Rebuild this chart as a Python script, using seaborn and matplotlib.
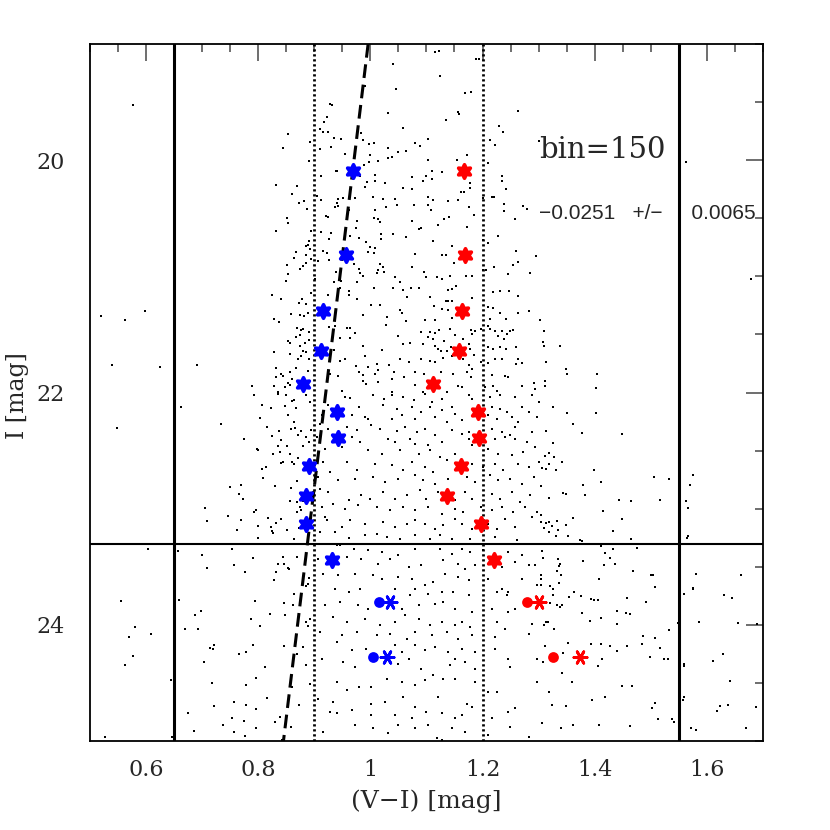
import numpy as np
import matplotlib
matplotlib.use('Agg')
import matplotlib.pyplot as plt
from matplotlib.ticker import MultipleLocator
import seaborn as sns

# field stars (V-I, I)
stars_upper_left = [
	(0.577, 19.525), (0.854, 19.777), (0.844, 19.892), (0.892, 19.846), (0.891, 20.004), (0.831, 20.216),
	(0.870, 20.225), (0.861, 20.288), (0.873, 20.365), (0.881, 20.348), (0.887, 20.423), (0.851, 20.495),
	(0.854, 20.540), (0.832, 20.609), (0.895, 20.606), (0.890, 20.695), (0.885, 20.735), (0.889, 20.730),
	(0.892, 20.767), (0.867, 20.787), (0.885, 20.813), (0.864, 20.839), (0.895, 20.850), (0.885, 20.882),
	(0.851, 20.902), (0.879, 20.911), (0.874, 20.939), (0.854, 20.977), (0.850, 21.037), (0.894, 21.146),
	(0.825, 21.163), (0.841, 21.195), (0.878, 21.197), (0.873, 21.226), (0.885, 21.237), (0.599, 21.295),
	(0.520, 21.338), (0.563, 21.375), (0.859, 21.326), (0.874, 21.329), (0.888, 21.312), (0.881, 21.344),
	(0.828, 21.370), (0.837, 21.390), (0.870, 21.441), (0.876, 21.458), (0.880, 21.453), (0.890, 21.478),
	(0.875, 21.507), (0.867, 21.524), (0.854, 21.553), (0.857, 21.570), (0.890, 21.544), (0.883, 21.576),
	(0.874, 21.599), (0.880, 21.639), (0.828, 21.654), (0.856, 21.668), (0.885, 21.654), (0.877, 21.685),
	(0.871, 21.711), (0.891, 21.711), (0.540, 21.765), (0.625, 21.783), (0.690, 21.762), (0.831, 21.788),
	(0.867, 21.791), (0.888, 21.814), (0.841, 21.843), (0.844, 21.857), (0.857, 21.826), (0.831, 21.866),
	(0.860, 21.883), (0.789, 21.943), (0.829, 21.943), (0.847, 21.949), (0.854, 21.920), (0.836, 21.992),
	(0.857, 21.935),
]

stars_upper_mid = [
	(1.123, 19.057), (1.115, 19.072), (1.189, 19.129), (1.194, 19.129), (1.040, 19.172), (1.125, 19.278),
	(0.990, 19.361), (1.045, 19.387), (1.179, 19.410), (1.169, 19.422), (0.928, 19.519), (0.931, 19.525),
	(1.031, 19.591), (1.156, 19.588), (1.158, 19.605), (1.264, 19.577), (0.922, 19.628), (0.918, 19.668),
	(1.135, 19.657), (1.058, 19.720), (1.229, 19.709), (0.911, 19.731), (0.915, 19.760), (0.925, 19.760),
	(1.236, 19.757), (0.983, 19.769), (0.936, 19.812), (0.948, 19.820), (1.102, 19.815), (0.987, 19.829),
	(1.213, 19.823), (1.301, 19.832), (0.997, 19.861), (1.007, 19.852), (1.080, 19.855), (1.088, 19.875),
	(1.222, 19.869), (1.032, 19.895), (0.929, 19.889), (0.911, 19.906), (1.063, 19.918), (1.049, 19.932),
	(0.954, 19.947), (1.000, 19.958), (1.173, 19.955), (1.039, 19.975), (1.031, 19.978), (1.103, 19.995),
	(1.155, 19.995), (1.014, 20.010), (0.988, 20.038), (0.998, 20.018), (1.210, 20.024), (0.939, 20.096),
	(0.941, 20.096), (1.127, 20.102), (1.110, 20.096), (0.912, 20.139), (0.982, 20.133), (1.008, 20.125),
	(1.234, 20.139), (1.074, 20.147), (1.100, 20.133), (1.235, 20.182), (0.994, 20.190), (1.009, 20.176),
	(1.026, 20.199), (1.093, 20.179), (1.109, 20.165), (1.178, 20.199), (0.991, 20.233), (1.059, 20.242),
	(1.075, 20.245), (1.177, 20.239), (1.241, 20.251), (1.162, 20.277), (1.167, 20.271), (0.905, 20.305),
	(0.912, 20.340), (0.943, 20.337), (0.952, 20.325), (0.973, 20.328), (1.005, 20.320), (1.023, 20.334),
	(1.044, 20.337), (1.102, 20.320), (1.112, 20.343), (1.139, 20.354), (1.156, 20.343), (1.200, 20.322),
	(1.216, 20.314), (1.221, 20.317), (0.940, 20.368), (0.943, 20.391), (1.047, 20.383), (1.078, 20.388),
	(1.103, 20.388), (1.176, 20.400), (1.238, 20.374), (1.273, 20.394), (1.280, 20.420), (0.937, 20.406),
	(0.961, 20.426), (1.008, 20.426), (1.028, 20.400), (1.108, 20.429), (1.239, 20.434), (0.920, 20.483),
	(0.924, 20.492), (1.007, 20.500), (1.014, 20.503), (1.141, 20.492), (1.131, 20.503), (1.184, 20.472),
	(1.257, 20.503), (1.074, 20.523), (0.977, 20.523), (1.018, 20.529), (1.121, 20.561), (1.173, 20.578),
	(0.912, 20.615), (0.929, 20.627), (0.975, 20.581), (1.041, 20.638), (1.091, 20.581), (1.087, 20.589),
	(1.228, 20.652), (0.964, 20.650), (1.019, 20.638), (1.064, 20.664), (0.980, 20.670), (1.112, 20.698),
	(0.926, 20.678), (0.993, 20.701), (1.019, 20.675), (1.201, 20.690), (1.209, 20.713), (0.916, 20.779),
	(0.922, 20.801), (0.999, 20.750), (1.008, 20.756), (0.995, 20.793), (1.006, 20.799), (1.080, 20.804),
	(1.145, 20.741), (1.127, 20.813), (1.135, 20.816), (1.260, 20.784), (1.295, 20.827), (0.907, 20.867),
	(0.926, 20.859), (0.971, 20.893), (1.018, 20.896), (1.023, 20.916), (1.074, 20.916), (1.150, 20.882),
	(1.220, 20.916), (1.264, 20.879), (1.255, 20.905), (0.979, 20.936), (1.014, 20.948), (0.981, 20.971),
	(0.986, 20.994), (0.938, 20.959), (1.011, 20.968), (1.024, 20.962), (1.096, 20.959), (1.201, 20.942),
	(1.207, 20.945), (1.246, 20.976), (1.285, 20.971), (1.044, 21.008), (1.100, 21.008), (1.118, 21.002),
	(1.127, 21.020), (1.142, 20.997), (1.170, 20.999), (1.181, 20.999), (0.902, 21.022), (0.948, 21.037),
	(0.936, 21.051), (0.977, 21.051), (1.053, 21.045), (0.961, 21.129), (0.945, 21.097), (1.006, 21.097),
	(1.040, 21.100), (1.059, 21.114), (1.072, 21.103), (1.087, 21.103), (1.138, 21.114), (1.145, 21.108),
	(1.152, 21.080), (1.219, 21.137), (1.231, 21.126), (1.248, 21.126), (0.925, 21.160), (0.961, 21.157),
	(0.976, 21.192), (1.065, 21.174), (1.106, 21.180), (1.135, 21.215), (1.138, 21.209), (1.146, 21.215),
	(1.181, 21.186), (1.264, 21.172), (1.002, 21.249), (1.018, 21.249), (1.052, 21.292), (1.056, 21.318),
	(1.113, 21.252), (1.127, 21.283), (1.138, 21.286), (1.210, 21.266), (1.218, 21.275), (1.231, 21.312),
	(1.264, 21.318), (1.282, 21.295), (0.986, 21.329), (1.029, 21.347), (1.063, 21.381), (1.097, 21.372),
	(1.115, 21.378), (1.146, 21.361), (1.214, 21.364), (1.241, 21.370), (0.926, 21.433), (0.937, 21.424),
	(0.958, 21.447), (0.964, 21.444), (1.027, 21.418), (0.973, 21.490), (1.091, 21.478), (1.106, 21.481),
	(1.116, 21.490), (1.123, 21.461), (1.142, 21.453), (1.151, 21.501), (1.179, 21.458), (1.187, 21.467),
	(1.197, 21.453), (1.210, 21.424), (1.213, 21.456), (1.222, 21.473), (1.227, 21.513), (1.234, 21.467),
	(1.243, 21.496), (1.249, 21.467), (1.255, 21.461), (1.238, 21.536), (1.260, 21.605), (0.946, 21.530),
	(0.964, 21.527), (1.050, 21.516), (1.103, 21.522), (1.112, 21.539), (1.132, 21.553), (1.166, 21.539),
	(1.181, 21.496), (1.175, 21.582), (1.210, 21.608), (1.219, 21.625), (1.232, 21.610), (1.241, 21.625),
	(0.936, 21.631), (0.990, 21.682), (0.987, 21.596), (1.020, 21.631), (1.059, 21.582), (1.071, 21.573),
	(1.094, 21.582), (1.116, 21.596), (1.120, 21.625), (1.126, 21.639), (1.136, 21.639), (1.144, 21.605),
	(1.145, 21.682), (1.178, 21.625), (1.185, 21.674), (0.946, 21.725), (0.954, 21.711), (0.974, 21.768),
	(0.996, 21.777), (1.011, 21.754), (1.014, 21.806), (1.033, 21.762), (1.053, 21.711), (1.068, 21.734),
	(1.091, 21.711), (1.106, 21.725), (1.115, 21.740), (1.130, 21.705), (1.166, 21.711), (1.175, 21.760),
	(1.181, 21.797), (1.198, 21.740), (1.210, 21.748), (1.222, 21.711), (1.234, 21.711), (1.260, 21.754),
	(1.264, 21.711), (1.270, 21.748), (1.291, 21.920), (0.979, 21.826), (0.986, 21.849), (1.008, 21.840),
	(1.042, 21.826), (1.060, 21.869), (1.080, 21.826), (1.096, 21.840), (1.126, 21.826), (1.148, 21.840),
	(1.172, 21.826), (1.179, 21.869), (1.217, 21.849), (1.240, 21.854), (1.246, 21.869), (0.928, 21.840),
	(0.943, 21.854), (0.987, 21.897), (0.993, 21.926), (1.014, 21.912), (1.038, 21.883), (1.080, 21.932),
	(1.157, 21.940), (1.163, 21.955), (1.204, 21.955), (1.219, 21.940), (1.270, 21.940), (0.949, 21.983),
	(1.039, 21.998), (1.094, 21.998), (1.136, 21.998), (1.225, 21.983), (1.294, 21.969),
]

stars_upper_right = [
	(1.563, 20.018), (1.678, 21.025), (1.302, 21.378), (1.310, 21.473), (1.307, 21.562), (1.310, 21.599),
	(1.338, 21.599), (1.314, 21.734), (1.349, 21.800), (1.350, 21.840), (1.405, 21.840), (1.311, 21.897),
	(1.311, 21.940), (1.402, 21.960),
]

stars_lower_left = [
	(0.548, 22.308), (0.662, 22.127), (0.793, 22.024), (0.836, 22.009), (0.850, 22.018), (0.860, 22.075),
	(0.864, 22.067), (0.886, 22.024), (0.893, 22.081), (0.847, 22.115), (0.807, 22.110), (0.823, 22.130),
	(0.867, 22.133), (0.854, 22.190), (0.804, 22.219), (0.734, 22.273), (0.864, 22.253), (0.815, 22.299),
	(0.858, 22.311), (0.865, 22.305), (0.877, 22.328), (0.894, 22.325), (0.837, 22.333), (0.871, 22.362),
	(0.824, 22.374), (0.886, 22.382), (0.775, 22.397), (0.840, 22.405), (0.891, 22.425), (0.836, 22.463),
	(0.851, 22.463), (0.880, 22.463), (0.797, 22.483), (0.800, 22.491), (0.839, 22.511), (0.827, 22.531),
	(0.857, 22.531), (0.871, 22.563), (0.845, 22.597), (0.840, 22.603), (0.860, 22.597), (0.864, 22.612),
	(0.813, 22.640), (0.806, 22.655), (0.809, 22.735), (0.869, 22.764), (0.830, 22.807), (0.750, 22.813),
	(0.770, 22.792), (0.858, 22.821), (0.765, 22.876), (0.772, 22.913), (0.857, 22.930), (0.869, 22.942),
	(0.879, 22.933), (0.874, 22.985), (0.705, 22.996), (0.793, 23.028), (0.796, 23.008), (0.869, 23.028),
	(0.877, 23.013), (0.747, 23.065), (0.817, 23.079), (0.840, 23.091), (0.708, 23.108), (0.769, 23.094),
	(0.831, 23.122), (0.800, 23.148), (0.822, 23.157), (0.762, 23.183), (0.825, 23.191), (0.826, 23.208),
	(0.851, 23.180), (0.873, 23.165), (0.800, 23.249), (0.864, 23.263), (0.604, 23.343), (0.657, 23.363),
	(0.754, 23.349), (0.699, 23.395), (0.790, 23.424), (0.844, 23.415), (0.870, 23.415), (0.756, 23.484),
	(0.836, 23.472), (0.846, 23.472), (0.854, 23.507), (0.709, 23.507), (0.777, 23.544), (0.832, 23.544),
	(0.855, 23.521), (0.890, 23.593), (0.828, 23.616), (0.885, 23.667), (0.888, 23.650), (0.864, 23.731),
	(0.555, 23.794), (0.659, 23.788), (0.794, 23.791), (0.846, 23.814), (0.862, 23.825), (0.698, 23.880),
	(0.688, 23.911), (0.821, 23.908), (0.847, 23.914), (0.788, 23.951), (0.892, 23.946), (0.885, 23.974),
	(0.580, 24.020), (0.609, 24.083), (0.569, 24.106), (0.669, 24.037), (0.693, 24.040), (0.804, 24.009),
	(0.888, 24.014), (0.791, 24.175), (0.846, 24.178), (0.879, 24.189), (0.714, 24.198), (0.722, 24.175),
	(0.719, 24.212), (0.778, 24.233), (0.765, 24.253), (0.869, 24.247), (0.576, 24.264), (0.562, 24.347),
	(0.704, 24.321), (0.812, 24.362), (0.886, 24.342), (0.796, 24.456), (0.644, 24.476), (0.717, 24.497),
	(0.778, 24.519), (0.892, 24.508), (0.861, 24.539), (0.816, 24.628), (0.722, 24.697), (0.757, 24.663),
	(0.778, 24.692), (0.873, 24.692), (0.796, 24.726), (0.675, 24.755), (0.839, 24.792), (0.753, 24.798),
	(0.737, 24.864), (0.775, 24.829), (0.796, 24.887), (0.830, 24.835), (0.859, 24.878), (0.686, 24.910),
	(0.757, 24.921), (0.776, 24.958), (0.527, 24.964), (0.842, 24.993), (0.647, 24.964),
]

stars_lower_mid = [
	(0.955, 22.038), (0.964, 22.047), (1.005, 22.018), (1.025, 22.052), (1.038, 22.018), (1.059, 22.038),
	(1.077, 22.067), (1.097, 22.009), (1.109, 22.081), (1.127, 22.052), (1.145, 22.124), (1.175, 22.018),
	(1.181, 22.052), (1.213, 22.038), (1.231, 22.024), (1.258, 22.038), (1.288, 22.024), (1.300, 22.081),
	(0.925, 22.110), (0.979, 22.124), (1.023, 22.110), (1.047, 22.138), (1.074, 22.124), (1.090, 22.167),
	(1.106, 22.124), (1.127, 22.153), (1.151, 22.181), (1.216, 22.124), (1.231, 22.138), (1.243, 22.167),
	(1.270, 22.124), (1.282, 22.167), (1.297, 22.210), (0.913, 22.196), (0.967, 22.196), (0.990, 22.210),
	(0.996, 22.224), (1.038, 22.224), (1.056, 22.196), (1.080, 22.230), (1.115, 22.210), (1.136, 22.253),
	(1.163, 22.239), (1.210, 22.196), (1.225, 22.224), (1.252, 22.210), (1.264, 22.253), (0.910, 22.268),
	(0.925, 22.311), (0.958, 22.296), (0.976, 22.325), (1.002, 22.282), (1.017, 22.311), (1.047, 22.333),
	(1.062, 22.296), (1.083, 22.339), (1.097, 22.311), (1.115, 22.368), (1.145, 22.325), (1.163, 22.354),
	(1.175, 22.339), (1.216, 22.311), (1.234, 22.339), (1.249, 22.368), (1.258, 22.296), (1.288, 22.339),
	(0.904, 22.382), (0.967, 22.382), (0.981, 22.425), (1.032, 22.397), (1.044, 22.425), (1.071, 22.397),
	(1.080, 22.440), (1.103, 22.454), (1.127, 22.425), (1.175, 22.397), (1.181, 22.454), (1.222, 22.397),
	(1.240, 22.382), (1.258, 22.397), (1.279, 22.425), (1.293, 22.468), (0.919, 22.483), (0.949, 22.468),
	(0.996, 22.497), (1.020, 22.526), (1.053, 22.497), (1.086, 22.526), (1.106, 22.497), (1.124, 22.554),
	(1.151, 22.526), (1.210, 22.483), (1.228, 22.526), (1.252, 22.540), (1.273, 22.511), (0.916, 22.597),
	(0.928, 22.683), (0.958, 22.597), (0.976, 22.669), (1.008, 22.612), (1.038, 22.626), (1.059, 22.669),
	(1.074, 22.597), (1.097, 22.640), (1.112, 22.683), (1.136, 22.583), (1.181, 22.612), (1.201, 22.640),
	(1.222, 22.612), (1.237, 22.669), (1.264, 22.612), (1.282, 22.640), (1.300, 22.597), (0.907, 22.726),
	(0.943, 22.755), (0.973, 22.741), (1.005, 22.726), (1.026, 22.769), (1.050, 22.741), (1.080, 22.712),
	(1.094, 22.755), (1.115, 22.784), (1.139, 22.741), (1.172, 22.726), (1.187, 22.769), (1.213, 22.712),
	(1.228, 22.755), (1.249, 22.741), (1.270, 22.784), (1.291, 22.726), (0.910, 22.827), (0.925, 22.856),
	(0.961, 22.927), (0.984, 22.884), (0.999, 22.913), (1.023, 22.856), (1.044, 22.913), (1.065, 22.884),
	(1.088, 22.841), (1.100, 22.913), (1.121, 22.856), (1.151, 22.927), (1.169, 22.856), (1.181, 22.913),
	(1.216, 22.870), (1.231, 22.913), (1.252, 22.856), (1.267, 22.942), (1.285, 22.884), (0.913, 22.985),
	(0.934, 22.956), (0.955, 22.999), (0.978, 22.970), (1.011, 22.985), (1.035, 23.013), (1.059, 22.985),
	(1.080, 23.013), (1.103, 22.985), (1.127, 23.042), (1.151, 22.999), (1.166, 23.028), (1.198, 22.985),
	(1.216, 23.013), (1.234, 22.985), (1.255, 23.028), (1.276, 22.985), (1.297, 23.028), (0.919, 23.071),
	(0.922, 23.099), (0.949, 23.157), (0.964, 23.099), (0.990, 23.128), (1.011, 23.214), (1.023, 23.114),
	(1.044, 23.157), (1.065, 23.128), (1.080, 23.099), (1.097, 23.128), (1.115, 23.171), (1.130, 23.143),
	(1.151, 23.085), (1.163, 23.128), (1.181, 23.171), (1.210, 23.128), (1.225, 23.171), (1.240, 23.085),
	(1.258, 23.157), (1.288, 23.071), (0.910, 23.200), (0.937, 23.200), (0.961, 23.251), (0.990, 23.229),
	(1.029, 23.243), (1.053, 23.257), (1.080, 23.229), (1.106, 23.257), (1.124, 23.229), (1.145, 23.257),
	(1.178, 23.257), (1.222, 23.243), (1.261, 23.272), (0.940, 23.315), (0.946, 23.309), (0.970, 23.343),
	(0.996, 23.358), (1.020, 23.372), (1.050, 23.401), (1.080, 23.343), (1.124, 23.343), (1.145, 23.386),
	(1.163, 23.343), (1.178, 23.372), (1.201, 23.358), (1.246, 23.372), (1.258, 23.458), (1.270, 23.401),
	(1.293, 23.487), (0.907, 23.429), (0.958, 23.415), (0.984, 23.429), (1.014, 23.472), (1.035, 23.429),
	(1.068, 23.501), (1.091, 23.487), (1.130, 23.444), (1.157, 23.472), (1.169, 23.515), (1.187, 23.487),
	(1.234, 23.501), (1.282, 23.487), (0.916, 23.558), (0.943, 23.573), (0.973, 23.558), (1.005, 23.573),
	(1.020, 23.602), (1.050, 23.587), (1.074, 23.602), (1.097, 23.659), (1.112, 23.630), (1.133, 23.558),
	(1.157, 23.587), (1.175, 23.616), (1.210, 23.602), (1.234, 23.688), (1.243, 23.745), (1.270, 23.602),
	(1.297, 23.659), (0.937, 23.688), (0.961, 23.716), (0.981, 23.688), (1.044, 23.688), (1.071, 23.745),
	(1.080, 23.688), (1.103, 23.731), (1.127, 23.716), (1.148, 23.716), (1.175, 23.745), (1.225, 23.716),
	(1.246, 23.716), (0.919, 23.831), (0.946, 23.802), (0.978, 23.831), (0.996, 23.860), (1.056, 23.860),
	(1.086, 23.831), (1.115, 23.817), (1.130, 23.802), (1.151, 23.860), (1.181, 23.888), (1.216, 23.860),
	(1.246, 23.888), (1.258, 23.860), (0.934, 23.931), (0.958, 23.974), (0.990, 23.946), (1.017, 24.003),
	(1.044, 23.974), (1.062, 23.917), (1.086, 23.946), (1.106, 24.003), (1.127, 23.974), (1.151, 24.003),
	(1.163, 23.974), (1.178, 24.017), (1.225, 23.974), (1.240, 24.032), (1.288, 23.989), (0.910, 24.060),
	(0.949, 24.089), (0.976, 24.060), (1.011, 24.089), (1.035, 24.075), (1.065, 24.118), (1.080, 24.060),
	(1.109, 24.089), (1.136, 24.060), (1.157, 24.118), (1.181, 24.089), (1.222, 24.103), (1.282, 24.075),
	(0.940, 24.147), (0.967, 24.218), (0.993, 24.204), (1.044, 24.175), (1.056, 24.233), (1.080, 24.175),
	(1.097, 24.218), (1.115, 24.190), (1.139, 24.233), (1.163, 24.204), (1.187, 24.233), (1.222, 24.204),
	(0.913, 24.290), (0.952, 24.319), (0.973, 24.362), (1.050, 24.333), (1.068, 24.290), (1.091, 24.376),
	(1.112, 24.433), (1.142, 24.347), (1.151, 24.290), (1.169, 24.319), (1.187, 24.376), (1.246, 24.290),
	(1.249, 24.362), (1.297, 24.290), (0.940, 24.491), (0.958, 24.562), (0.979, 24.534), (1.002, 24.534),
	(1.029, 24.462), (1.056, 24.491), (1.080, 24.519), (1.097, 24.476), (1.130, 24.462), (1.151, 24.462),
	(1.187, 24.491), (1.210, 24.577), (1.225, 24.577), (1.297, 24.491), (0.907, 24.634), (0.934, 24.663),
	(1.002, 24.677), (1.026, 24.663), (1.059, 24.620), (1.121, 24.620), (1.172, 24.677), (1.181, 24.706),
	(1.080, 24.706), (0.928, 24.749), (0.940, 24.763), (0.967, 24.735), (1.002, 24.778), (1.044, 24.778),
	(1.074, 24.806), (1.100, 24.749), (1.127, 24.763), (1.151, 24.806), (1.163, 24.778), (1.216, 24.806),
	(1.246, 24.749), (1.258, 24.720), (0.916, 24.921), (0.973, 24.864), (1.005, 24.892), (1.032, 24.935),
	(1.050, 24.864), (1.080, 24.892), (1.103, 24.864), (1.118, 24.978), (1.127, 24.993), (1.145, 24.892),
	(1.169, 24.921), (1.210, 24.950), (1.249, 24.878), (1.282, 24.964),
]

stars_lower_right = [
	(1.325, 22.124), (1.351, 22.173), (1.403, 22.176), (1.362, 22.268), (1.314, 22.333), (1.378, 22.351),
	(1.449, 22.354), (1.325, 22.434), (1.319, 22.520), (1.312, 22.546), (1.328, 22.557), (1.342, 22.600),
	(1.318, 22.612), (1.306, 22.649), (1.314, 22.661), (1.331, 22.669), (1.399, 22.666), (1.412, 22.770),
	(1.380, 22.792), (1.506, 22.727), (1.533, 22.747), (1.576, 22.709), (1.570, 22.792), (1.304, 22.804),
	(1.344, 22.861), (1.349, 22.870), (1.382, 22.879), (1.318, 22.907), (1.443, 22.922), (1.464, 22.936),
	(1.516, 22.925), (1.562, 22.936), (1.567, 22.993), (1.415, 23.019), (1.304, 23.051), (1.362, 23.077),
	(1.449, 23.088), (1.305, 23.114), (1.313, 23.120), (1.319, 23.117), (1.332, 23.108), (1.348, 23.137),
	(1.323, 23.151), (1.310, 23.166), (1.335, 23.186), (1.319, 23.203), (1.331, 23.234), (1.353, 23.234),
	(1.373, 23.272), (1.378, 23.275), (1.432, 23.191), (1.464, 23.257), (1.567, 23.234), (1.564, 23.254),
	(1.412, 23.323), (1.433, 23.349), (1.475, 23.335), (1.306, 23.360), (1.418, 23.383), (1.428, 23.421),
	(1.308, 23.421), (1.335, 23.435), (1.380, 23.447), (1.437, 23.478), (1.416, 23.487), (1.339, 23.475),
	(1.336, 23.492), (1.469, 23.538), (1.581, 23.558), (1.661, 23.567), (1.304, 23.567), (1.333, 23.536),
	(1.340, 23.570), (1.500, 23.570), (1.504, 23.573), (1.407, 23.604), (1.304, 23.604), (1.336, 23.639),
	(1.305, 23.653), (1.320, 23.662), (1.325, 23.690), (1.508, 23.676), (1.575, 23.693), (1.576, 23.682),
	(1.363, 23.719), (1.355, 23.759), (1.326, 23.745), (1.375, 23.753), (1.393, 23.774), (1.399, 23.785),
	(1.406, 23.782), (1.457, 23.765), (1.491, 23.802), (1.560, 23.731), (1.631, 23.745), (1.644, 23.768),
	(1.320, 23.811), (1.333, 23.825), (1.339, 23.845), (1.341, 23.831), (1.377, 23.897), (1.412, 23.937),
	(1.439, 23.880), (1.456, 23.894), (1.463, 23.906), (1.392, 23.969), (1.440, 23.992), (1.313, 23.977),
	(1.316, 23.974), (1.310, 24.003), (1.327, 24.040), (1.532, 24.046), (1.549, 23.983), (1.586, 23.974),
	(1.656, 23.986), (1.689, 23.995), (1.353, 24.152), (1.393, 24.164), (1.411, 24.164), (1.428, 24.181),
	(1.439, 24.221), (1.457, 24.178), (1.484, 24.167), (1.486, 24.098), (1.507, 24.112), (1.517, 24.195),
	(1.311, 24.181), (1.343, 24.238), (1.307, 24.319), (1.413, 24.290), (1.406, 24.353), (1.499, 24.276),
	(1.524, 24.290), (1.531, 24.290), (1.560, 24.333), (1.560, 24.356), (1.611, 24.313), (1.628, 24.247),
	(1.342, 24.413), (1.359, 24.494), (1.641, 24.482), (1.449, 24.528), (1.466, 24.525), (1.318, 24.577),
	(1.419, 24.620), (1.395, 24.648), (1.324, 24.692), (1.349, 24.700), (1.508, 24.674), (1.503, 24.712),
	(1.559, 24.620), (1.558, 24.643), (1.623, 24.695), (1.638, 24.686), (1.618, 24.740), (1.688, 24.706),
	(1.512, 24.809), (1.538, 24.809), (1.542, 24.835), (1.306, 24.841), (1.340, 24.884), (1.362, 24.858),
	(1.408, 24.861), (1.463, 24.867), (1.572, 24.884), (1.580, 24.901), (1.670, 24.890),
]

# binned ridge lines
bin_mag = [20.09, 20.82, 21.30, 21.645, 21.93, 22.17, 22.39, 22.63, 22.89, 23.13, 23.44]
blue_color = [0.969, 0.956, 0.916, 0.912, 0.880, 0.941, 0.943, 0.891, 0.886, 0.885, 0.932]
red_color = [1.167, 1.169, 1.164, 1.158, 1.112, 1.192, 1.194, 1.162, 1.136, 1.197, 1.221]

# faint bins: measured (circle) and corrected (asterisk)
faint_mag = [23.80, 24.28]
blue_faint_dot = [1.016, 1.004]
blue_faint_ast = [1.035, 1.029]
red_faint_dot = [1.280, 1.325]
red_faint_ast = [1.301, 1.374]

# fitted slope line
fit_mag = [19.0, 25.0]
fit_color = [0.996, 0.845]

cut_colors = [0.65, 1.55]
ridge_guides = [0.90, 1.20]
mag_limit = 23.30

sns.set_style('white')
plt.rcParams['font.family'] = ['DejaVu Serif']

fig = plt.figure(figsize=(8.3, 8.3), dpi=100)
ax = fig.add_axes([0.1084, 0.1072, 0.8108, 0.8398])

field = np.array(stars_upper_left + stars_upper_mid + stars_upper_right
				 + stars_lower_left + stars_lower_mid + stars_lower_right)
sns.scatterplot(x=field[:, 0], y=field[:, 1], ax=ax, color='black', marker='s', s=3.5, linewidth=0)

for xv in cut_colors:
	ax.axvline(xv, color='black', lw=2.2)
for xv in ridge_guides:
	ax.axvline(xv, color='black', lw=2.0, ls=(0, (0.8, 1.0)))
ax.axhline(mag_limit, color='black', lw=1.5)

sns.lineplot(x=fit_color, y=fit_mag, ax=ax, sort=False, color='black', lw=2.2,
			 dashes=False, linestyle=(0, (4.5, 2.2)))

star = (6, 1, 0)
sns.scatterplot(x=blue_color, y=bin_mag, ax=ax, color='blue', marker=star, s=95, linewidth=2.6,
				edgecolor='blue', zorder=5)
sns.scatterplot(x=red_color, y=bin_mag, ax=ax, color='red', marker=star, s=95, linewidth=2.6,
				edgecolor='red', zorder=5)
sns.scatterplot(x=blue_faint_dot, y=faint_mag, ax=ax, color='blue', marker='o', s=60, linewidth=0, zorder=5)
sns.scatterplot(x=red_faint_dot, y=faint_mag, ax=ax, color='red', marker='o', s=60, linewidth=0, zorder=5)
sns.scatterplot(x=blue_faint_ast, y=faint_mag, ax=ax, color='blue', marker=(6, 2, 90), s=90, linewidth=2.0, zorder=5)
sns.scatterplot(x=red_faint_ast, y=faint_mag, ax=ax, color='red', marker=(6, 2, 90), s=90, linewidth=2.0, zorder=5)

ax.text(1.413, 19.91, 'bin=150', fontsize=21, ha='center', va='center', family=['DejaVu Serif'])
ax.text(1.3, 20.455, '\u22120.0251   +/\u2212     0.0065', fontsize=15, ha='left', va='center',
		family=['Liberation Sans', 'DejaVu Sans'])

ax.set_xlim(0.5, 1.7)
ax.set_ylim(25, 19)
ax.set_xticks([0.6, 0.8, 1.0, 1.2, 1.4, 1.6])
ax.set_xticklabels(['0.6', '0.8', '1', '1.2', '1.4', '1.6'])
ax.set_yticks([20, 22, 24])
ax.set_yticklabels(['20', '22', '24'])
ax.xaxis.set_minor_locator(MultipleLocator(0.05))
ax.yaxis.set_minor_locator(MultipleLocator(0.5))
ax.tick_params(which='both', direction='in', top=True, right=True, color='#555555', width=1.2, labelsize=16)
ax.tick_params(which='major', length=12)
ax.tick_params(which='minor', length=6)
ax.tick_params(axis='x', pad=13)
ax.tick_params(axis='y', pad=18)
for sp in ax.spines.values():
	sp.set_linewidth(1.3)
	sp.set_color('black')

ax.set_xlabel('(V\u2212I) [mag]', fontsize=18)
ax.set_ylabel('I [mag]', fontsize=17)
ax.xaxis.set_label_coords(0.5, -0.07)
ax.yaxis.set_label_coords(-0.09, 0.496)

fig.savefig('out.png', dpi=100)
